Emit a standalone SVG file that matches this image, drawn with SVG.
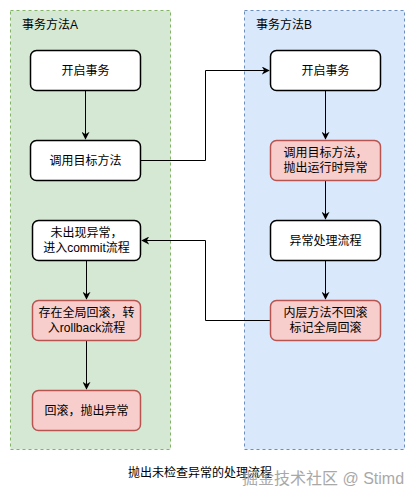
<svg xmlns="http://www.w3.org/2000/svg" width="415" height="501" viewBox="0 0 415 501">
<style>
text{font-family:"Liberation Sans","Noto Sans CJK SC",sans-serif;font-size:12px;fill:#000}
.c{text-anchor:middle;dominant-baseline:central}
.node{stroke-width:1.5}
.w{fill:#fff;stroke:#000}
.r{fill:#f8cecc;stroke:#b85450}
.edge{fill:none;stroke:#000;stroke-width:1}
</style>
<defs>
<marker id="arr" viewBox="0 0 10 10" refX="9" refY="5" markerWidth="8" markerHeight="8" orient="auto" markerUnits="userSpaceOnUse">
<path d="M0,0 L10,5 L0,10 L3,5 Z" fill="#000"/>
</marker>
</defs>
<rect width="415" height="501" fill="#fff"/>
<g id="containerA">
<rect x="10.5" y="10.5" width="160" height="439" fill="#d5e8d4" stroke="#82b366" stroke-dasharray="3 3"/>
<text x="22" y="25" dominant-baseline="central">事务方法A</text>
</g>
<g id="containerB">
<rect x="244.5" y="10.5" width="160" height="439" fill="#dae8fc" stroke="#6c8ebf" stroke-dasharray="3 3"/>
<text x="256" y="25" dominant-baseline="central">事务方法B</text>
</g>
<g id="connectors">
<path class="edge" d="M85.5,91 V139" marker-end="url(#arr)"/>
<path class="edge" d="M140,160.5 H205.5 V70.5 H269" marker-end="url(#arr)"/>
<path class="edge" d="M325.5,91 V139" marker-end="url(#arr)"/>
<path class="edge" d="M325.5,181 V219" marker-end="url(#arr)"/>
<path class="edge" d="M325.5,261 V299" marker-end="url(#arr)"/>
<path class="edge" d="M270,320.5 H205.5 V240.5 H142" marker-end="url(#arr)"/>
<path class="edge" d="M86.5,261 V299" marker-end="url(#arr)"/>
<path class="edge" d="M86.5,341 V389" marker-end="url(#arr)"/>
</g>
<g id="a1"><rect class="node w" x="30.5" y="50.5" width="110" height="40" rx="6"/><text class="c" x="85.5" y="70.5">开启事务</text></g>
<g id="a2"><rect class="node w" x="30.5" y="140.5" width="110" height="40" rx="6"/><text class="c" x="85.5" y="160.5">调用目标方法</text></g>
<g id="a3"><rect class="node w" x="32.5" y="220.5" width="108" height="40" rx="6"/><text class="c" x="86.5" y="233">未出现异常，</text><text class="c" x="86.5" y="248">进入commit流程</text></g>
<g id="a4"><rect class="node r" x="32.5" y="300.5" width="108" height="40" rx="6"/><text class="c" x="86.5" y="313">存在全局回滚，转</text><text class="c" x="86.5" y="328">入rollback流程</text></g>
<g id="a5"><rect class="node r" x="32.5" y="390.5" width="108" height="40" rx="6"/><text class="c" x="86.5" y="410.5">回滚，抛出异常</text></g>
<g id="b1"><rect class="node w" x="270.5" y="50.5" width="110" height="40" rx="6"/><text class="c" x="325.5" y="70.5">开启事务</text></g>
<g id="b2"><rect class="node r" x="270.5" y="140.5" width="110" height="40" rx="6"/><text class="c" x="325.5" y="153">调用目标方法，</text><text class="c" x="325.5" y="168">抛出运行时异常</text></g>
<g id="b3"><rect class="node w" x="270.5" y="220.5" width="110" height="40" rx="6"/><text class="c" x="325.5" y="240.5">异常处理流程</text></g>
<g id="b4"><rect class="node r" x="270.5" y="300.5" width="110" height="40" rx="6"/><text class="c" x="325.5" y="313">内层方法不回滚</text><text class="c" x="325.5" y="328">标记全局回滚</text></g>
<g id="caption"><text class="c" x="200" y="473">抛出未检查异常的处理流程</text></g>
<g id="watermark"><text x="242" y="484" style="font-size:16px;fill:#9a9a9a;opacity:0.85">掘金技术社区 @ Stimd</text></g>
</svg>
